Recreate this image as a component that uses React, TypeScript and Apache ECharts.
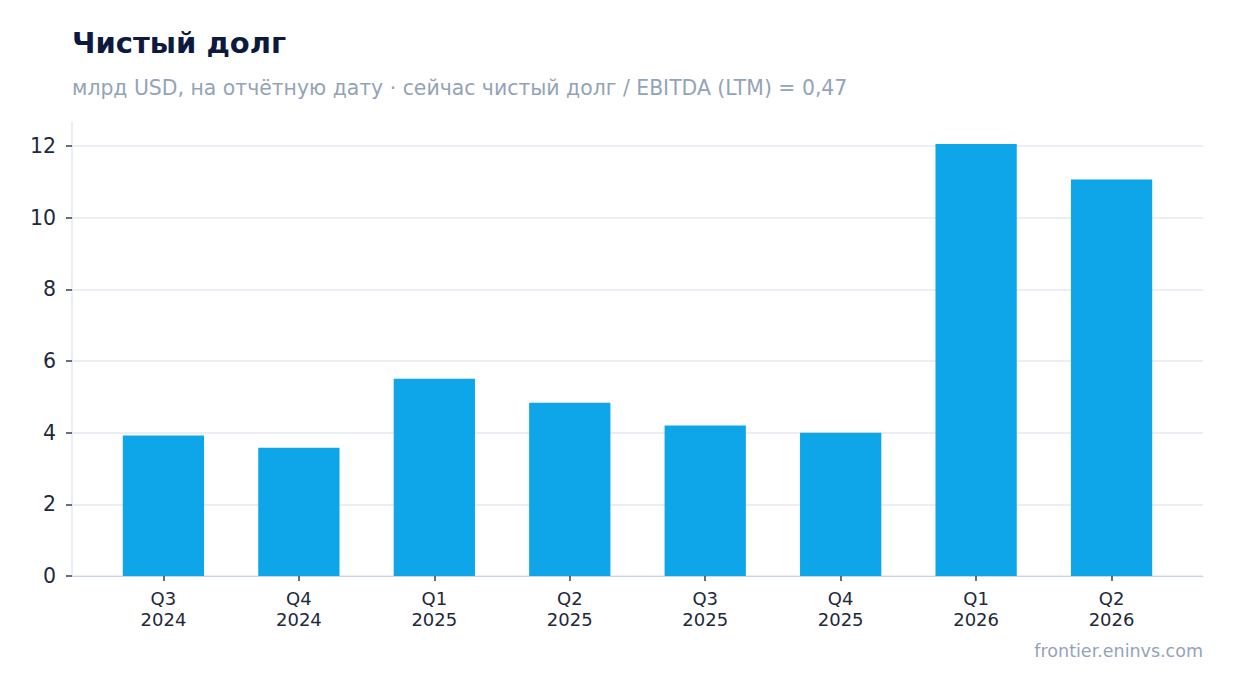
import React, { useEffect, useRef } from "react";
import * as echarts from "echarts";

const categories = ["Q3\n2024", "Q4\n2024", "Q1\n2025", "Q2\n2025", "Q3\n2025", "Q4\n2025", "Q1\n2026", "Q2\n2026"];
const netDebt = [3.92, 3.58, 5.51, 4.84, 4.2, 4.0, 12.06, 11.07];
const yTicks = [0, 2, 4, 6, 8, 10, 12];
const titleText = "Чистый долг";
const subtitleText = "млрд USD, на отчётную дату · сейчас чистый долг / EBITDA (LTM) = 0,47";
const footerText = "frontier.eninvs.com";

const FONT = "DejaVu Sans";

export default function App() {
  const ref = useRef<HTMLDivElement>(null);
  useEffect(() => {
    if (!ref.current) return;
    const chart = echarts.init(ref.current, undefined, { renderer: "svg" });
    const xIdx = categories.map((_, i) => i);
    chart.setOption({
      animation: false,
      backgroundColor: "#ffffff",
      textStyle: { fontFamily: FONT },
      title: [
        {
          text: titleText,
          left: 72,
          top: 28,
          padding: 0,
          textStyle: { fontFamily: FONT, fontSize: 29, fontWeight: "bold", color: "#0c1a3e", lineHeight: 29 },
        },
        {
          text: subtitleText,
          left: 72,
          top: 78,
          padding: 0,
          textStyle: { fontFamily: FONT, fontSize: 20.4, fontWeight: "normal", color: "#94a3b8", lineHeight: 20 },
        },
      ],
      graphic: [
        {
          type: "text",
          right: 31,
          top: 642,
          style: { text: footerText, font: `17.5px ${FONT}`, fill: "#94a3b8" },
        },
      ],
      grid: { left: 72, right: 31, top: 122.5, bottom: 117, containLabel: false },
      xAxis: {
        type: "value",
        min: -0.675,
        max: categories.length - 1 + 0.675,
        axisLine: { show: true, onZero: false, lineStyle: { color: "#cbd5e1", width: 1 } },
        axisTick: { show: true, length: 5, customValues: xIdx, lineStyle: { color: "#334155", width: 1.5 } },
        axisLabel: {
          color: "#1e293b",
          fontSize: 18,
          lineHeight: 21,
          margin: 11.5,
          fontFamily: FONT,
          customValues: xIdx,
          formatter: (v: number) => categories[Math.round(v)] ?? "",
        },
        splitLine: { show: false },
      },
      yAxis: {
        type: "value",
        min: 0,
        max: (v: { max: number }) => v.max * 1.05,
        axisLine: { show: true, onZero: false, lineStyle: { color: "#e2e8f0", width: 1.5 } },
        axisTick: { show: true, length: 6, customValues: yTicks, lineStyle: { color: "#334155", width: 1.5 } },
        axisLabel: { color: "#1e293b", fontSize: 20.5, margin: 16, fontFamily: FONT, customValues: yTicks },
        splitLine: { show: true, lineStyle: { color: "#e5e9f0", width: 1.5 } },
      },
      series: [
        {
          type: "bar",
          data: netDebt.map((v, i) => [i, v]),
          barWidth: "60%",
          itemStyle: { color: "#0ea5e9" },
        },
      ],
    });
    return () => chart.dispose();
  }, []);
  return <div ref={ref} style={{ width: 1234, height: 693, position: "absolute", left: 0, top: 0 }} />;
}
